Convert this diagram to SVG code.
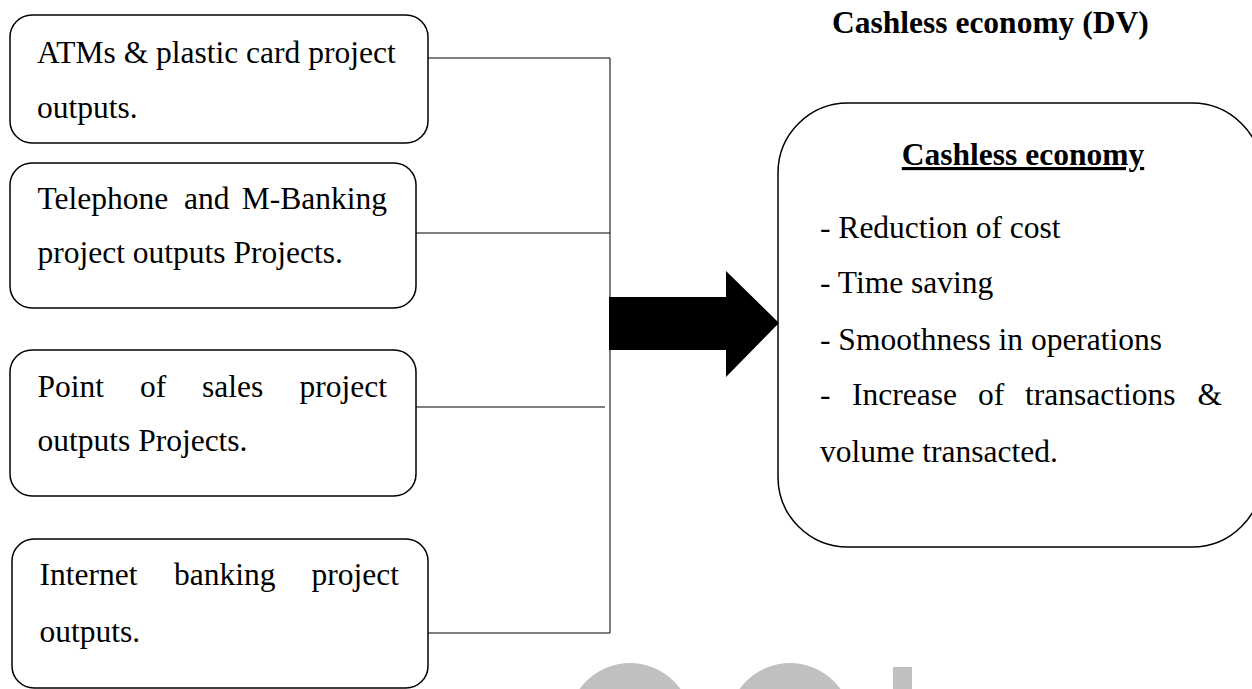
<svg xmlns="http://www.w3.org/2000/svg" width="1252" height="689" viewBox="0 0 1252 689">
<style>
.box{fill:#fff;stroke:#000;stroke-width:1.5}
.t{font-family:"Liberation Serif","Times New Roman",serif;font-size:31.5px;fill:#000}
.b{font-weight:bold}
.c{stroke:#000;stroke-width:1;fill:none}
</style>
<rect width="1252" height="689" fill="#fff"/>
<g id="watermark" fill="#c0c0c0">
<circle cx="630" cy="725" r="62"/>
<circle cx="790" cy="725" r="62"/>
<rect x="893" y="667" width="19" height="30"/>
</g>
<text class="t b" x="832" y="33">Cashless economy (DV)</text>
<g id="connectors">
<path class="c" d="M428 58H610V633M416 233H610M428 633H610"/>
<path d="M412 407H605" stroke="#555" stroke-width="1.5"/>
<polygon points="609,297 726,297 726,271 779,323 726,377 726,350 609,350" fill="#000"/>
</g>
<g id="n1">
<rect class="box" x="10" y="15" width="418" height="128" rx="22"/>
<text class="t" x="37" y="63">ATMs &amp; plastic card project</text>
<text class="t" x="37" y="118">outputs.</text>
</g>
<g id="n2">
<rect class="box" x="10" y="163" width="406" height="145" rx="22"/>
<text class="t" y="209"><tspan x="37.5">Telephone</tspan><tspan x="184">and</tspan></text>
<text class="t" x="387" y="209" text-anchor="end">M-Banking</text>
<text class="t" x="37.5" y="263">project outputs Projects.</text>
</g>
<g id="n3">
<rect class="box" x="10" y="350" width="406" height="146" rx="22"/>
<text class="t" y="397"><tspan x="37.5">Point</tspan><tspan x="140">of</tspan><tspan x="202">sales</tspan></text>
<text class="t" x="387" y="397" text-anchor="end">project</text>
<text class="t" x="37.5" y="451">outputs Projects.</text>
</g>
<g id="n4">
<rect class="box" x="12" y="539" width="416" height="149" rx="22"/>
<text class="t" y="585"><tspan x="39.5">Internet</tspan><tspan x="174">banking</tspan></text>
<text class="t" x="399" y="585" text-anchor="end">project</text>
<text class="t" x="39.5" y="642">outputs.</text>
</g>
<g id="n5">
<rect class="box" x="778" y="103" width="484" height="444" rx="70" ry="70"/>
<text class="t b" x="1023" y="165" text-anchor="middle" text-decoration="underline">Cashless economy</text>
<text class="t" x="820" y="238">- Reduction of cost</text>
<text class="t" x="820" y="293">- Time saving</text>
<text class="t" x="820" y="350">- Smoothness in operations</text>
<text class="t" y="405"><tspan x="820">-</tspan><tspan x="852">Increase</tspan><tspan x="978">of</tspan><tspan x="1025">transactions</tspan></text>
<text class="t" x="1222" y="405" text-anchor="end">&amp;</text>
<text class="t" x="820" y="462">volume transacted.</text>
</g>
</svg>
